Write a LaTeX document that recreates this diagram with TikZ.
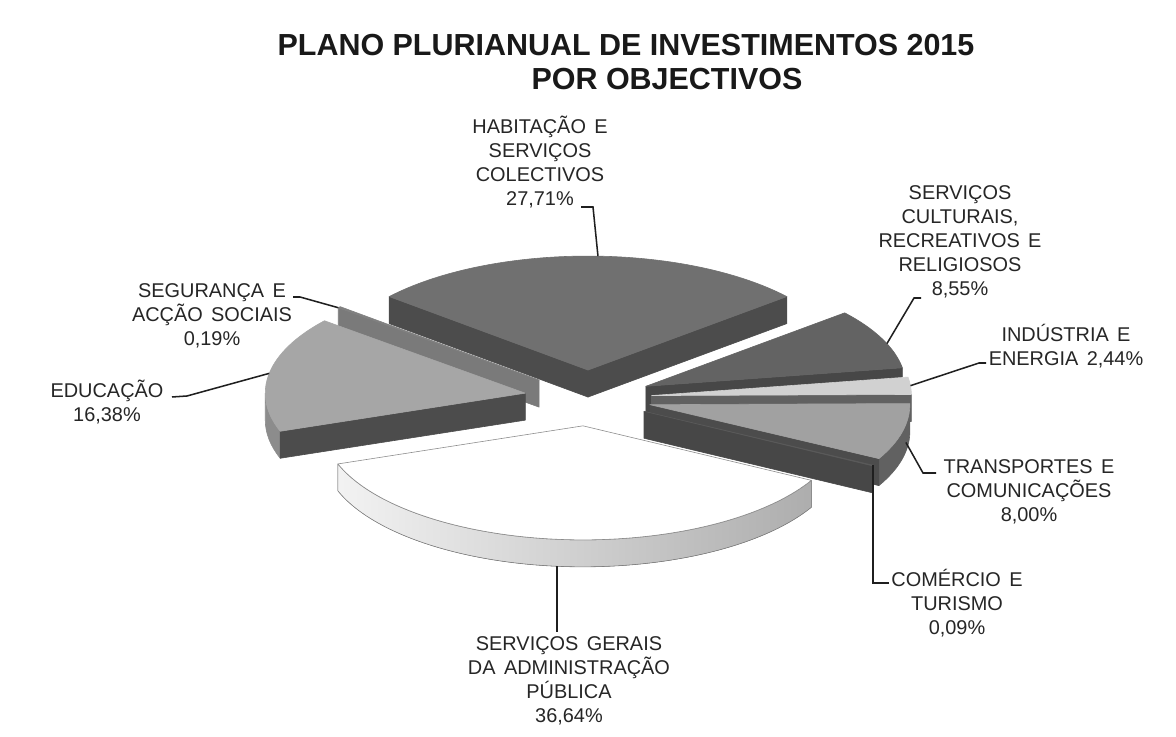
\documentclass[tikz,border=0pt]{standalone}
\usepackage{fontspec}
\setmainfont{Liberation Sans}
\def\pRX{260}\def\pRY{114}\def\pDP{27}
% visible radial wall of a slice at angle #1
\newcommand\radwall[2]{\fill[face,#2] (0,0) -- (#1:\pRX\space and \pRY) -- ++(0,-\pDP) -- (0,-\pDP) -- cycle;}
% visible curved rim between #1 and #2
\newcommand\rimwall[3]{\fill[face,#3] (#1:\pRX\space and \pRY) arc[start angle=#1,end angle=#2,x radius=\pRX,y radius=\pRY] -- ++(0,-\pDP) arc[start angle=#2,end angle=#1,x radius=\pRX,y radius=\pRY] -- cycle;}
% top face between #1 and #2
\newcommand\topface[3]{\fill[face,#3] (0,0) -- (#1:\pRX\space and \pRY) arc[start angle=#1,end angle=#2,x radius=\pRX,y radius=\pRY] -- cycle;}
\newcommand\labfont{\fontsize{17}{20.4}\selectfont\spaceskip=0.42em\relax}
\begin{document}
\begin{tikzpicture}[x=0.03cm,y=0.03cm,
  face/.style={draw=black!80, line width=0.5pt, line join=round},
  lab/.style={font=\labfont, text=black!85, align=center, inner sep=0pt},
  ttl/.style={font=\bfseries\fontsize{26}{30}\selectfont, text=black!90, inner sep=0pt},
  leader/.style={draw=black!88, line width=1.3pt, line join=miter}]
\useasboundingbox (0,0) rectangle (1176,737);
\fill[white] (0,0) rectangle (1176,737);

% title
\node[ttl] (t1) at (626,692) {PLANO PLURIANUAL DE INVESTIMENTOS 2015};
\node[ttl] (t2) at (667,658) {POR OBJECTIVOS};

\begin{scope}[shift={(588,339)}]
 % Habitacao
 \begin{scope}[shift={(90:63.7 and 27.93)}]
  \radwall{40.122}{black!70}
  \radwall{139.878}{black!70}
  \topface{40.122}{139.878}{black!56}
  \coordinate (pHab) at (87.8:\pRX\space and \pRY);
 \end{scope}
 % Seguranca
 \begin{scope}[shift={(140.22:63.7 and 27.93)}]
  \radwall{140.562}{black!52}
  \topface{139.878}{140.562}{black!50}
  \coordinate (pSeg) at (140.562:\pRX\space and \pRY);
 \end{scope}
 % Culturais
 \begin{scope}[shift={(24.732:63.7 and 27.93)}]
  \radwall{9.342}{black!72}
  \topface{9.342}{40.122}{black!61}
  \coordinate (pCul) at (22:\pRX\space and \pRY);
 \end{scope}
 % Educacao
 \begin{scope}[shift={(170.046:63.7 and 27.93)}]
  \rimwall{180}{199.53}{black!45}
  \radwall{199.53}{black!70}
  \topface{140.562}{199.53}{black!35}
  \coordinate (pEdu) at (170:\pRX\space and \pRY);
 \end{scope}
 % Industria
 \begin{scope}[shift={(4.95:63.7 and 27.93)}]
  \radwall{0.558}{black!62}
  \topface{0.558}{9.342}{black!18}
  \coordinate (pInd) at (5:\pRX\space and \pRY);
 \end{scope}
 % Transportes
 \begin{scope}[shift={(-13.842:63.7 and 27.93)}]
  \rimwall{-28.242}{0}{black!62}
  \radwall{-28.242}{black!70}
  \topface{-28.242}{0.558}{black!37}
  \path (-10:\pRX\space and \pRY) ++(0,-18) coordinate (pTra);
 \end{scope}
 % Comercio
 \begin{scope}[shift={(-28.404:63.7 and 27.93)}]
  \rimwall{-28.566}{-28.242}{black!65}
  \radwall{-28.566}{black!72}
  \topface{-28.566}{-28.242}{black!65}
  \coordinate (pCom) at (-28.4:\pRX\space and \pRY);
 \end{scope}
 % Servicos gerais
 \begin{scope}[shift={(265.482:63.7 and 27.93)}]
  \rimwall{199.53}{331.434}{left color=black!5, right color=black!32, draw=black!50}
  \topface{199.53}{331.434}{fill=white, draw=black!45}
  \path (264.3:\pRX\space and \pRY) ++(0,-\pDP) coordinate (pSer);
 \end{scope}
\end{scope}

% labels
\node[lab] (lHab) at (540,575) {HABITAÇÃO E\\SERVIÇOS\\COLECTIVOS\\27,71\%};
\node[lab] (lCul) at (960,495) {SERVIÇOS\\CULTURAIS,\\RECREATIVOS E\\RELIGIOSOS\\8,55\%};
\node[lab] (lInd) at (1066,391) {INDÚSTRIA E\\ENERGIA 2,44\%};
\node[lab] (lTra) at (1029,245) {TRANSPORTES E\\COMUNICAÇÕES\\8,00\%};
\node[lab] (lCom) at (957,134) {COMÉRCIO E\\TURISMO\\0,09\%};
\node[lab] (lSer) at (569,56) {SERVIÇOS GERAIS\\DA ADMINISTRAÇÃO\\PÚBLICA\\36,64\%};
\node[lab] (lEdu) at (107,335) {EDUCAÇÃO\\16,38\%};
\node[lab] (lSeg) at (212,421) {SEGURANÇA E\\ACÇÃO SOCIAIS\\0,19\%};

% leader start points
\coordinate (sHab) at (581,530);
\coordinate (sCul) at (921,439);
\coordinate (sInd) at (986,374);
\coordinate (sTra) at (936,264);
\coordinate (sCom) at (889,154);
\coordinate (sSer) at (557,105);
\coordinate (sEdu) at (172,340);
\coordinate (sSeg) at (293,440);

\draw[leader] (sHab) -- ++(12,0) -- (pHab);
\draw[leader] (sCul) -- ++(-7,0) -- (pCul);
\draw[leader] (sInd) -- ++(-7,0) -- (pInd);
\draw[leader] (sTra) -- ++(-13,0) -- (pTra);
\draw[leader] (sCom) -| (pCom);
\draw[leader] (sSer) -- (sSer |- pSer);
\draw[leader] (sEdu) -- ++(15,1) -- (pEdu);
\draw[leader] (sSeg) -- ++(7,0) -- (pSeg);
\end{tikzpicture}
\end{document}
